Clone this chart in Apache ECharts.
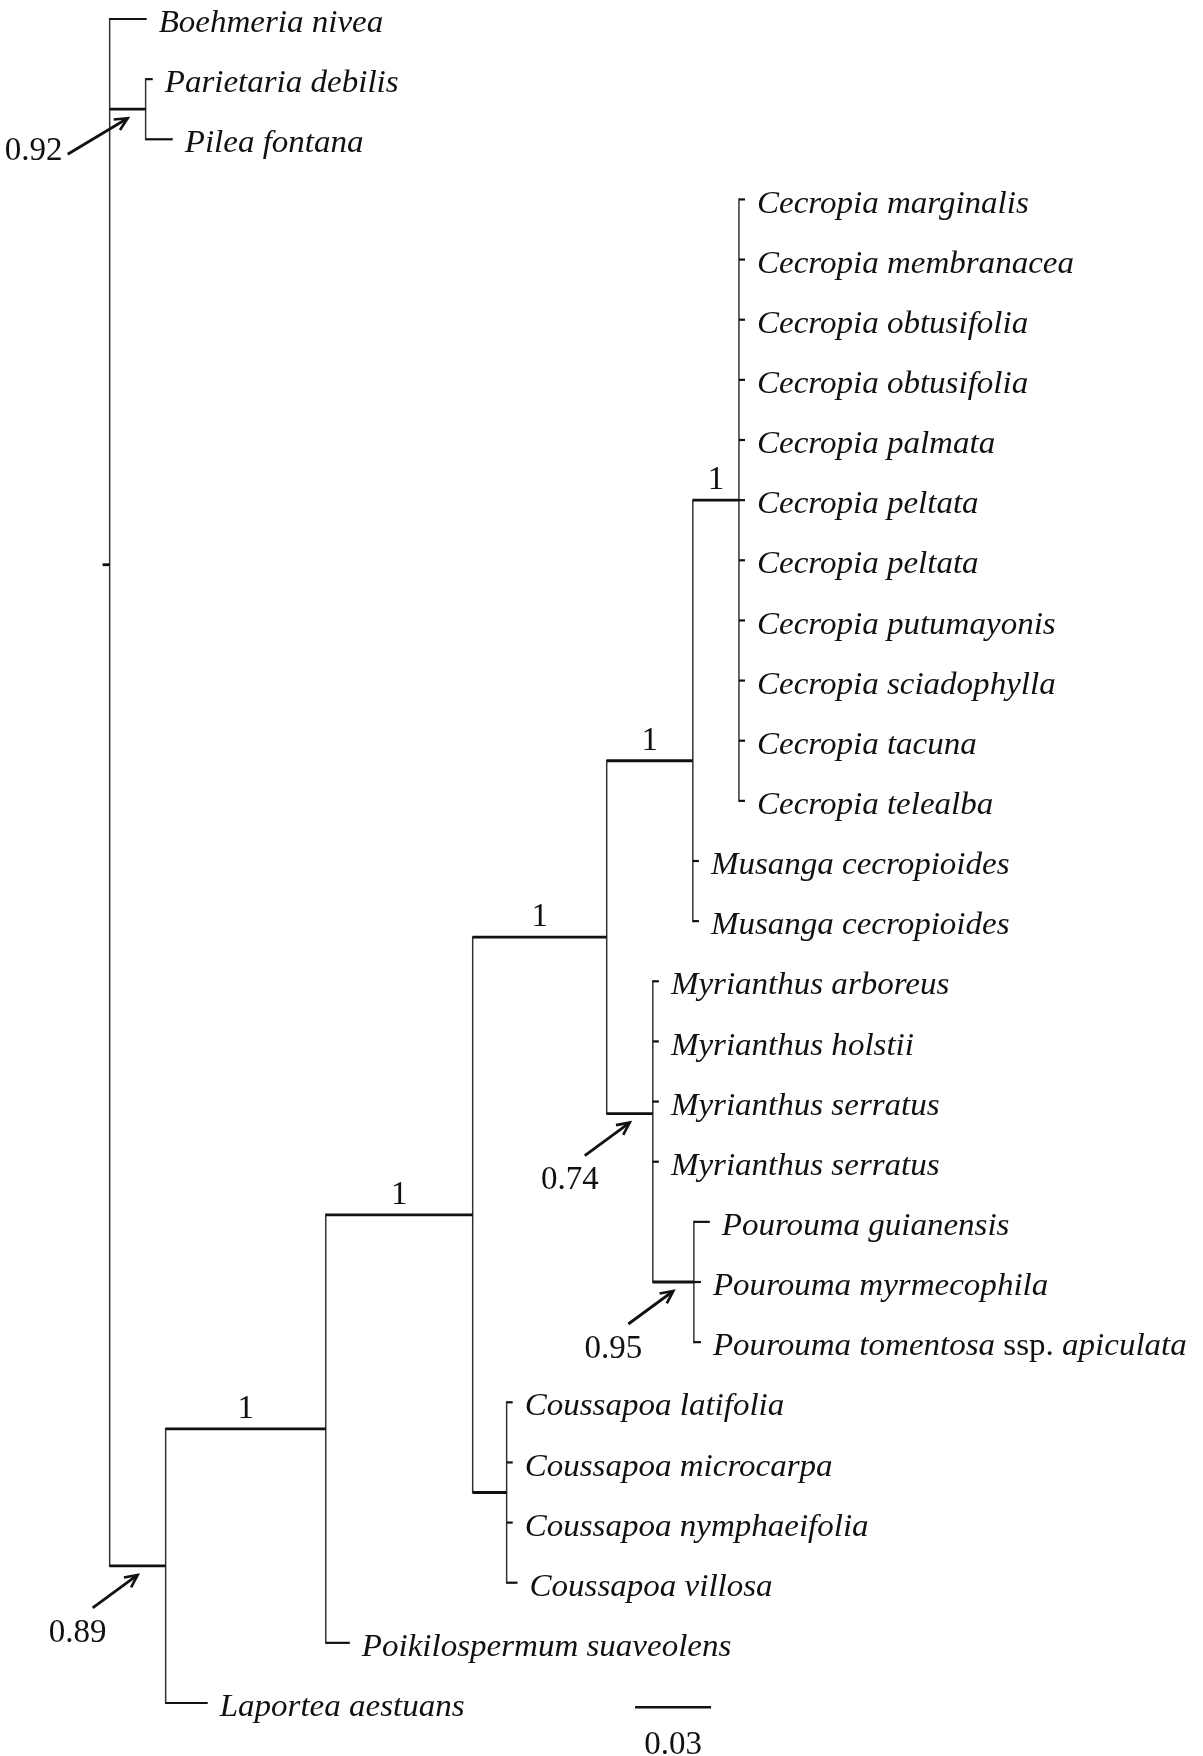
<!DOCTYPE html>
<html>
<head>
<meta charset="utf-8">
<title>Phylogeny</title>
<script src="https://cdn.jsdelivr.net/npm/echarts@6/dist/echarts.min.js"></script>
<style>
    html, body { margin: 0; padding: 0; background: #fff; }
    #chart { width: 1203px; height: 1756px; }
</style>
</head>
<body>
<div id="chart"></div>
<script>
// tips, top to bottom (row = index)
const tipNames = [
    'Boehmeria nivea', 'Parietaria debilis', 'Pilea fontana',
    'Cecropia marginalis', 'Cecropia membranacea', 'Cecropia obtusifolia', 'Cecropia obtusifolia',
    'Cecropia palmata', 'Cecropia peltata', 'Cecropia peltata', 'Cecropia putumayonis',
    'Cecropia sciadophylla', 'Cecropia tacuna', 'Cecropia telealba',
    'Musanga cecropioides', 'Musanga cecropioides',
    'Myrianthus arboreus', 'Myrianthus holstii', 'Myrianthus serratus', 'Myrianthus serratus',
    'Pourouma guianensis', 'Pourouma myrmecophila', 'Pourouma tomentosa ssp. apiculata',
    'Coussapoa latifolia', 'Coussapoa microcarpa', 'Coussapoa nymphaeifolia', 'Coussapoa villosa',
    'Poikilospermum suaveolens', 'Laportea aestuans'
];
const tipParents = [
    'root', 'par', 'par',
    'cec', 'cec', 'cec', 'cec', 'cec', 'cec', 'cec', 'cec', 'cec', 'cec', 'cec',
    'nE', 'nE',
    'my', 'my', 'my', 'my',
    'pou', 'pou', 'pou',
    'cou', 'cou', 'cou', 'cou',
    'nB', 'n089'
];
const tipLengths = [
    0.0146, 0.0028, 0.0107,
    0.0024, 0.0024, 0.0024, 0.0024, 0.0024, 0.0024, 0.0024, 0.0024, 0.0024, 0.0024, 0.0024,
    0.0024, 0.0024,
    0.0024, 0.0024, 0.0024, 0.0024,
    0.0063, 0.0028, 0.0028,
    0.0024, 0.0024, 0.0024, 0.0043,
    0.0095, 0.0166
];

// internal nodes
const nodeIds = ['root', 'par', 'n089', 'nB', 'nC', 'cou', 'nD', 'nE', 'cec', 'my', 'pou'];
const nodeParents = [null, 'root', 'root', 'n089', 'nB', 'nC', 'nC', 'nD', 'nE', 'nD', 'my'];
const nodeLengths = [0.0028, 0.0142, 0.0221, 0.0632, 0.058, 0.0134, 0.0529, 0.034, 0.0182, 0.0182, 0.0162];
const nodeSupport = [null, 0.92, 0.89, 1, 1, null, 1, 1, 1, 0.74, 0.95];

const scaleBarLength = 0.03;
const scaleBarLabel = '0.03';

// ---- layout of the tree (x = distance from root, y = row) ----
const nodeX = {};
const nodeRow = {};
const children = {};
nodeIds.forEach(id => { children[id] = []; });
nodeIds.forEach((id, i) => {
    if (nodeParents[i]) {
        children[nodeParents[i]].push({type: 'node', id: id, idx: i});
    }
});
tipNames.forEach((name, i) => {
    children[tipParents[i]].push({type: 'tip', idx: i});
});

const calcX = (id, x) => {
    nodeX[id] = x;
    children[id].forEach(c => {
        if (c.type === 'node') {
            calcX(c.id, x + nodeLengths[c.idx]);
        }
    });
};
calcX('root', 0);

const calcRow = id => {
    const rows = children[id].map(c => c.type === 'tip' ? c.idx : calcRow(c.id));
    nodeRow[id] = rows.reduce((a, b) => a + b, 0) / rows.length;
    return nodeRow[id];
};
calcRow('root');

const tipX = tipNames.map((n, i) => nodeX[tipParents[i]] + tipLengths[i]);

// horizontal branches: [x0, x1, row, isTip]
const hData = [[-nodeLengths[0], 0, nodeRow.root, 0]];
nodeIds.forEach((id, i) => {
    if (nodeParents[i]) {
        hData.push([nodeX[nodeParents[i]], nodeX[id], nodeRow[id], 0]);
    }
});
tipNames.forEach((n, i) => {
    hData.push([nodeX[tipParents[i]], tipX[i], i, 1]);
});

// vertical connectors: [x, rowTop, rowBottom]
const vData = nodeIds.map(id => {
    const rows = children[id].map(c => c.type === 'tip' ? c.idx : nodeRow[c.id]);
    return [nodeX[id], Math.min(...rows), Math.max(...rows)];
});

const labelData = tipNames.map((n, i) => [tipX[i], i]);

const supportData = [];
const arrowData = [];
nodeIds.forEach((id, i) => {
    const s = nodeSupport[i];
    if (s === null) {
        return;
    }
    const item = [nodeX[nodeParents[i]], nodeX[id], nodeRow[id], s, i];
    if (s === 1) {
        supportData.push(item);
    } else {
        arrowData.push(item);
    }
});

const SERIF = '"Liberation Serif", "Times New Roman", serif';
const INK = '#111';
const LABEL_SIZE = 31;

const renderH = (params, api) => {
    const p0 = api.coord([api.value(0), api.value(2)]);
    const p1 = api.coord([api.value(1), api.value(2)]);
    return {
        type: 'line',
        shape: {x1: p0[0], y1: p0[1], x2: p1[0], y2: p1[1]},
        style: {stroke: INK, lineWidth: api.value(3) ? 2.2 : 2.8}
    };
};

const renderV = (params, api) => {
    const p0 = api.coord([api.value(0), api.value(1)]);
    const p1 = api.coord([api.value(0), api.value(2)]);
    return {
        type: 'line',
        shape: {x1: p0[0], y1: p0[1] - 1, x2: p1[0], y2: p1[1] + 1},
        style: {stroke: '#333', lineWidth: 1.5}
    };
};

const renderLabel = (params, api) => {
    const p = api.coord([api.value(0), api.value(1)]);
    const name = tipNames[params.dataIndex];
    const parts = name.split(' ssp. ');
    const style = {
        fontFamily: SERIF,
        fontSize: LABEL_SIZE,
        fontStyle: 'italic',
        fill: INK,
        align: 'left',
        verticalAlign: 'middle'
    };
    if (parts.length > 1) {
        style.text = '{i|' + parts[0] + '} {r|ssp.} {i|' + parts[1] + '}';
        style.rich = {
            i: {fontFamily: SERIF, fontSize: LABEL_SIZE, fontStyle: 'italic', fill: INK},
            r: {fontFamily: SERIF, fontSize: LABEL_SIZE, fontStyle: 'normal', fill: INK}
        };
    } else {
        style.text = name;
    }
    return {type: 'text', x: p[0] + 12, y: p[1] + 5, scaleX: 1.065, style: style};
};

const renderSupport = (params, api) => {
    const p0 = api.coord([api.value(0), api.value(2)]);
    const p1 = api.coord([api.value(1), api.value(2)]);
    return {
        type: 'text',
        x: (p0[0] + p1[0]) / 2,
        y: p0[1] - 3,
        style: {
            text: String(api.value(3)),
            fontFamily: SERIF,
            fontSize: 33,
            fill: INK,
            align: 'center',
            verticalAlign: 'bottom'
        }
    };
};

const renderArrow = (params, api) => {
    const p0 = api.coord([api.value(0), api.value(2)]);
    const p1 = api.coord([api.value(1), api.value(2)]);
    const id = nodeIds[api.value(4)];
    const tip = [(p0[0] + p1[0]) / 2, p0[1] + 9];
    // the root-level arrow is drawn flatter with its number on the left
    const left = id === 'par';
    const tail = left ? [tip[0] - 60, tip[1] + 36] : [tip[0] - 45, tip[1] + 33];
    const lab = left ? [tail[0] - 34, tail[1] - 3] : [tail[0] - 15, tail[1] + 25];
    const ang = Math.atan2(tail[1] - tip[1], tail[0] - tip[0]);
    const hl = 14;
    const h1 = [tip[0] + hl * Math.cos(ang + 0.45), tip[1] + hl * Math.sin(ang + 0.45)];
    const h2 = [tip[0] + hl * Math.cos(ang - 0.45), tip[1] + hl * Math.sin(ang - 0.45)];
    return {
        type: 'group',
        children: [
            {
                type: 'line',
                shape: {x1: tail[0], y1: tail[1], x2: tip[0], y2: tip[1]},
                style: {stroke: INK, lineWidth: 2.8}
            },
            {
                type: 'polyline',
                shape: {points: [h1, tip, h2]},
                style: {stroke: INK, lineWidth: 2.6, fill: null}
            },
            {
                type: 'text',
                x: lab[0],
                y: lab[1],
                style: {
                    text: String(api.value(3)),
                    fontFamily: SERIF,
                    fontSize: 33,
                    fill: INK,
                    align: 'center',
                    verticalAlign: 'middle'
                }
            }
        ]
    };
};

// scale bar placed under the Pourouma / Coussapoa columns
const scaleBarX = 0.2074;
const scaleBarRow = 28.07;
const renderScale = (params, api) => {
    const p0 = api.coord([api.value(0), api.value(2)]);
    const p1 = api.coord([api.value(1), api.value(2)]);
    return {
        type: 'group',
        children: [
            {
                type: 'line',
                shape: {x1: p0[0], y1: p0[1], x2: p1[0], y2: p1[1]},
                style: {stroke: INK, lineWidth: 2.6}
            },
            {
                type: 'text',
                x: (p0[0] + p1[0]) / 2,
                y: p0[1] + 38,
                style: {
                    text: scaleBarLabel,
                    fontFamily: SERIF,
                    fontSize: 33,
                    fill: INK,
                    align: 'center',
                    verticalAlign: 'middle'
                }
            }
        ]
    };
};

const chart = echarts.init(document.getElementById('chart'), null, {renderer: 'canvas'});

chart.setOption({
    animation: false,
    backgroundColor: '#fff',
    grid: {left: 59, right: 80, top: 19, bottom: 53},
    xAxis: {type: 'value', min: -0.02, max: 0.4, show: false},
    yAxis: {type: 'value', min: 0, max: 28, inverse: true, show: false},
    series: [
        {type: 'custom', name: 'verticals', clip: false, renderItem: renderV, data: vData},
        {type: 'custom', name: 'branches', clip: false, renderItem: renderH, data: hData},
        {type: 'custom', name: 'labels', clip: false, renderItem: renderLabel, data: labelData},
        {type: 'custom', name: 'support', clip: false, renderItem: renderSupport, data: supportData},
        {type: 'custom', name: 'arrows', clip: false, renderItem: renderArrow, data: arrowData},
        {
            type: 'custom',
            name: 'scale',
            clip: false,
            renderItem: renderScale,
            data: [[scaleBarX, scaleBarX + scaleBarLength, scaleBarRow]]
        }
    ]
});
</script>
</body>
</html>
